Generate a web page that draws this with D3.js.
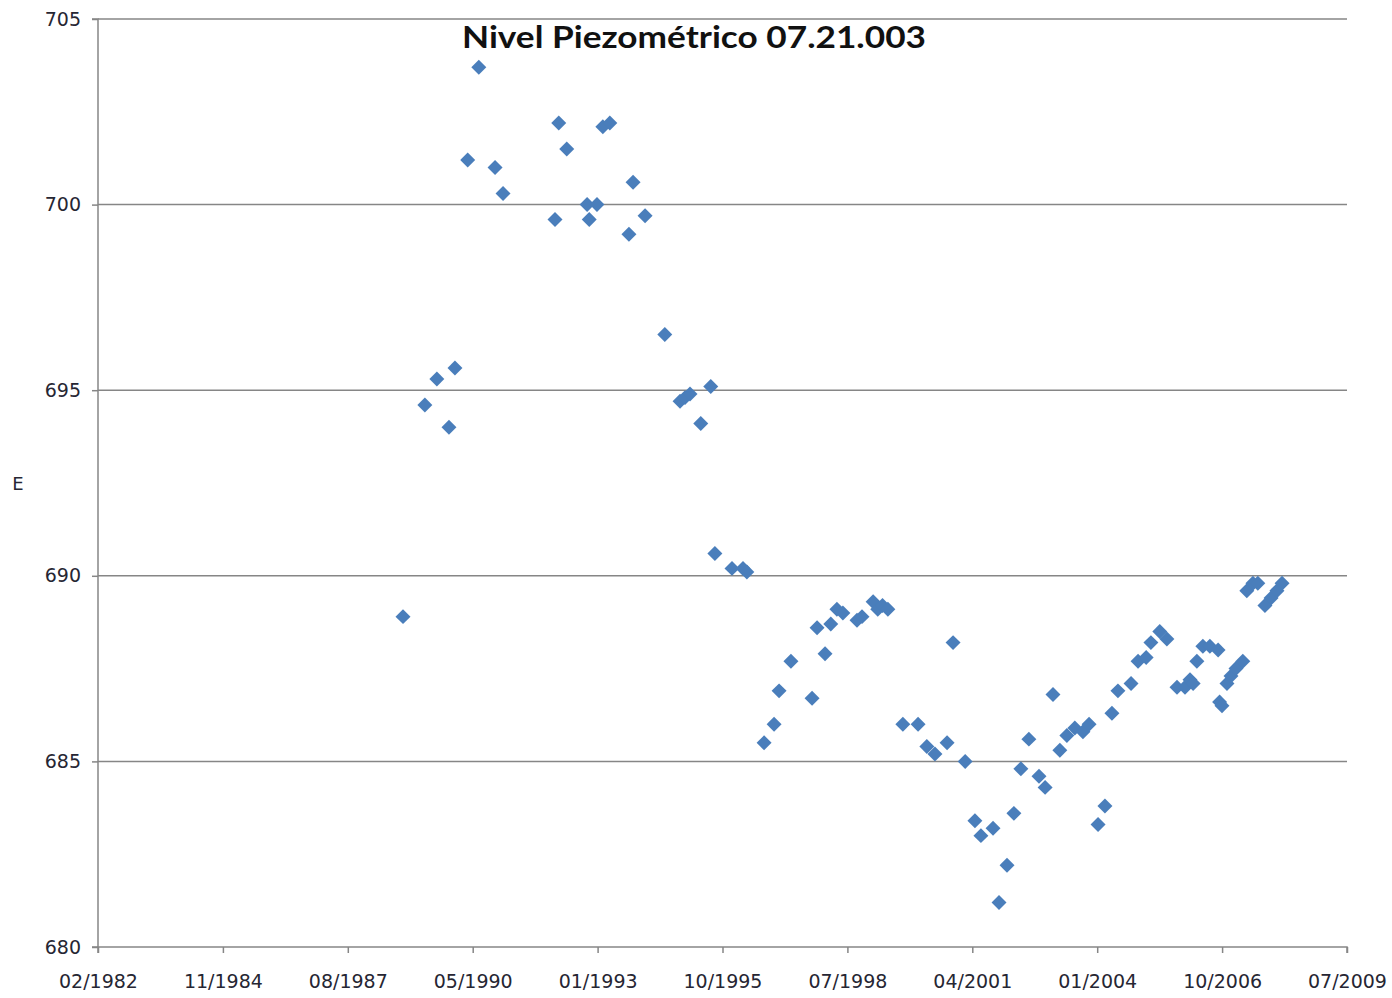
<!DOCTYPE html>
<html>
<head>
<meta charset="utf-8">
<script src="https://cdn.jsdelivr.net/npm/d3@7/dist/d3.min.js"></script>
<style>
  html, body { margin: 0; padding: 0; background: #fff; }
  svg { display: block; }
</style>
</head>
<body>
<svg id="chart" width="1392" height="998"></svg>
<script>
const title = "Nivel Piezométrico 07.21.003";
const yLabel = "E";

const dates = [
  "1988-10-26","1989-04-19","1989-07-24","1989-10-29","1989-12-16","1990-03-28","1990-06-25","1990-11-02","1991-01-05",
  "1992-02-25","1992-03-26","1992-05-29","1992-11-08","1992-11-25","1993-01-26","1993-03-14","1993-05-09","1993-10-09",
  "1993-11-11","1994-02-15","1994-07-23","1994-11-22","1995-01-01","1995-02-10","1995-05-07","1995-07-26","1995-08-28",
  "1996-01-12","1996-04-09","1996-05-10","1996-09-25","1996-12-14","1997-01-23","1997-04-28","1997-10-14","1997-11-23",
  "1998-01-26","1998-03-13","1998-05-01","1998-06-18","1998-10-09","1998-11-18","1999-02-15","1999-03-24","1999-05-01",
  "1999-06-13","1999-10-11","2000-02-10","2000-04-20","2000-06-24","2000-09-29","2000-11-16","2001-02-21","2001-05-10",
  "2001-06-27","2001-10-02","2001-11-19","2002-01-22","2002-03-18","2002-05-13","2002-07-16","2002-10-05","2002-11-23",
  "2003-01-25","2003-03-21","2003-05-16","2003-07-19","2003-09-22","2003-11-10","2004-01-21","2004-03-16","2004-05-11",
  "2004-06-28","2004-10-11","2004-12-06","2005-02-09","2005-03-19","2005-05-29","2005-07-25","2005-10-14","2005-12-17",
  "2006-01-26","2006-02-20","2006-03-22","2006-05-09","2006-07-04","2006-09-08","2006-09-20","2006-10-09","2006-11-18",
  "2006-12-20","2007-01-29","2007-03-25","2007-04-26","2007-06-14","2007-07-23","2007-09-18","2007-11-06","2007-12-23",
  "2008-02-02"
];
const levels = [
  688.9, 694.6, 695.3, 694.0, 695.6, 701.2, 703.7, 701.0, 700.3,
  699.6, 702.2, 701.5, 700.0, 699.6, 700.0, 702.1, 702.2, 699.2,
  700.6, 699.7, 696.5, 694.7, 694.8, 694.9, 694.1, 695.1, 690.6,
  690.2, 690.2, 690.1, 685.5, 686.0, 686.9, 687.7, 686.7, 688.6,
  687.9, 688.7, 689.1, 689.0, 688.8, 688.9, 689.3, 689.1, 689.2,
  689.1, 686.0, 686.0, 685.4, 685.2, 685.5, 688.2, 685.0, 683.4,
  683.0, 683.2, 681.2, 682.2, 683.6, 684.8, 685.6, 684.6, 684.3,
  686.8, 685.3, 685.7, 685.9, 685.8, 686.0, 683.3, 683.8, 686.3,
  686.9, 687.1, 687.7, 687.8, 688.2, 688.5, 688.3, 687.0, 687.0,
  687.2, 687.1, 687.7, 688.1, 688.1, 688.0, 686.6, 686.5, 687.1,
  687.3, 687.5, 687.7, 689.6, 689.8, 689.8, 689.2, 689.4, 689.6,
  689.8
];
const xTickLabels = ["02/1982","11/1984","08/1987","05/1990","01/1993","10/1995","07/1998","04/2001","01/2004","10/2006","07/2009"];
const yTicks = [680, 685, 690, 695, 700, 705];

const parse = d3.timeParse("%Y-%m-%d");
const data = dates.map((d, i) => ({ date: parse(d), value: levels[i] }));

const svg = d3.select("#chart");
const mLeft = 98, mRight = 1347, mTop = 19, mBottom = 947;

const x0 = new Date(1982, 1, 18);
const xTickDates = xTickLabels.map((_, i) => d3.timeDay.offset(x0, i * 1000));
const x = d3.scaleTime().domain([xTickDates[0], xTickDates[xTickDates.length - 1]]).range([mLeft, mRight]);
const y = d3.scaleLinear().domain([680, 705]).range([mBottom, mTop]);

const gridColor = "#868686";
const textColor = "#262633";
const font = "'DejaVu Sans', sans-serif";

// gridlines
svg.append("g")
  .selectAll("line")
  .data(yTicks.filter(v => v !== 680))
  .join("line")
  .attr("x1", mLeft).attr("x2", mRight)
  .attr("y1", d => y(d)).attr("y2", d => y(d))
  .attr("stroke", gridColor).attr("stroke-width", 1.5);

// y axis
const yAxis = svg.append("g")
  .attr("transform", `translate(${mLeft},0)`)
  .call(d3.axisLeft(y).tickValues(yTicks).tickSize(6).tickPadding(11).tickFormat(d3.format("d")));
yAxis.selectAll("path, line").attr("stroke", gridColor).attr("stroke-width", 1.5);
yAxis.select(".domain").attr("d", `M-6,${mBottom}H0V${mTop}H-6`);
yAxis.selectAll("text").attr("font-family", font).attr("font-size", 19).attr("fill", textColor);

// x axis
const xAxis = svg.append("g")
  .attr("transform", `translate(0,${mBottom})`)
  .call(d3.axisBottom(x).tickValues(xTickDates).tickSize(6).tickPadding(22)
    .tickFormat((d, i) => xTickLabels[i]));
xAxis.selectAll("path, line").attr("stroke", gridColor).attr("stroke-width", 1.5);
xAxis.select(".domain").attr("d", `M${mLeft},6V0H${mRight}V6`);
xAxis.selectAll("text").attr("font-family", font).attr("font-size", 19).attr("fill", textColor);

// y label
svg.append("text")
  .attr("x", 18).attr("y", 490)
  .attr("text-anchor", "middle")
  .attr("font-family", font).attr("font-size", 18).attr("fill", textColor)
  .text(yLabel);

// points
const diamond = d3.symbol().type(d3.symbolSquare).size(112);
svg.append("g")
  .selectAll("path")
  .data(data)
  .join("path")
  .attr("d", diamond)
  .attr("transform", d => `translate(${x(d.date)},${y(d.value)}) rotate(45)`)
  .attr("fill", "#4a7ebb");

// title
svg.append("text")
  .attr("x", 694).attr("y", 48)
  .attr("text-anchor", "middle")
  .attr("font-family", "Lato, 'Open Sans', sans-serif")
  .attr("font-weight", "bold")
  .attr("font-size", 31)
  .attr("fill", "#111")
  .attr("textLength", 464)
  .attr("lengthAdjust", "spacingAndGlyphs")
  .text(title);
</script>
</body>
</html>
